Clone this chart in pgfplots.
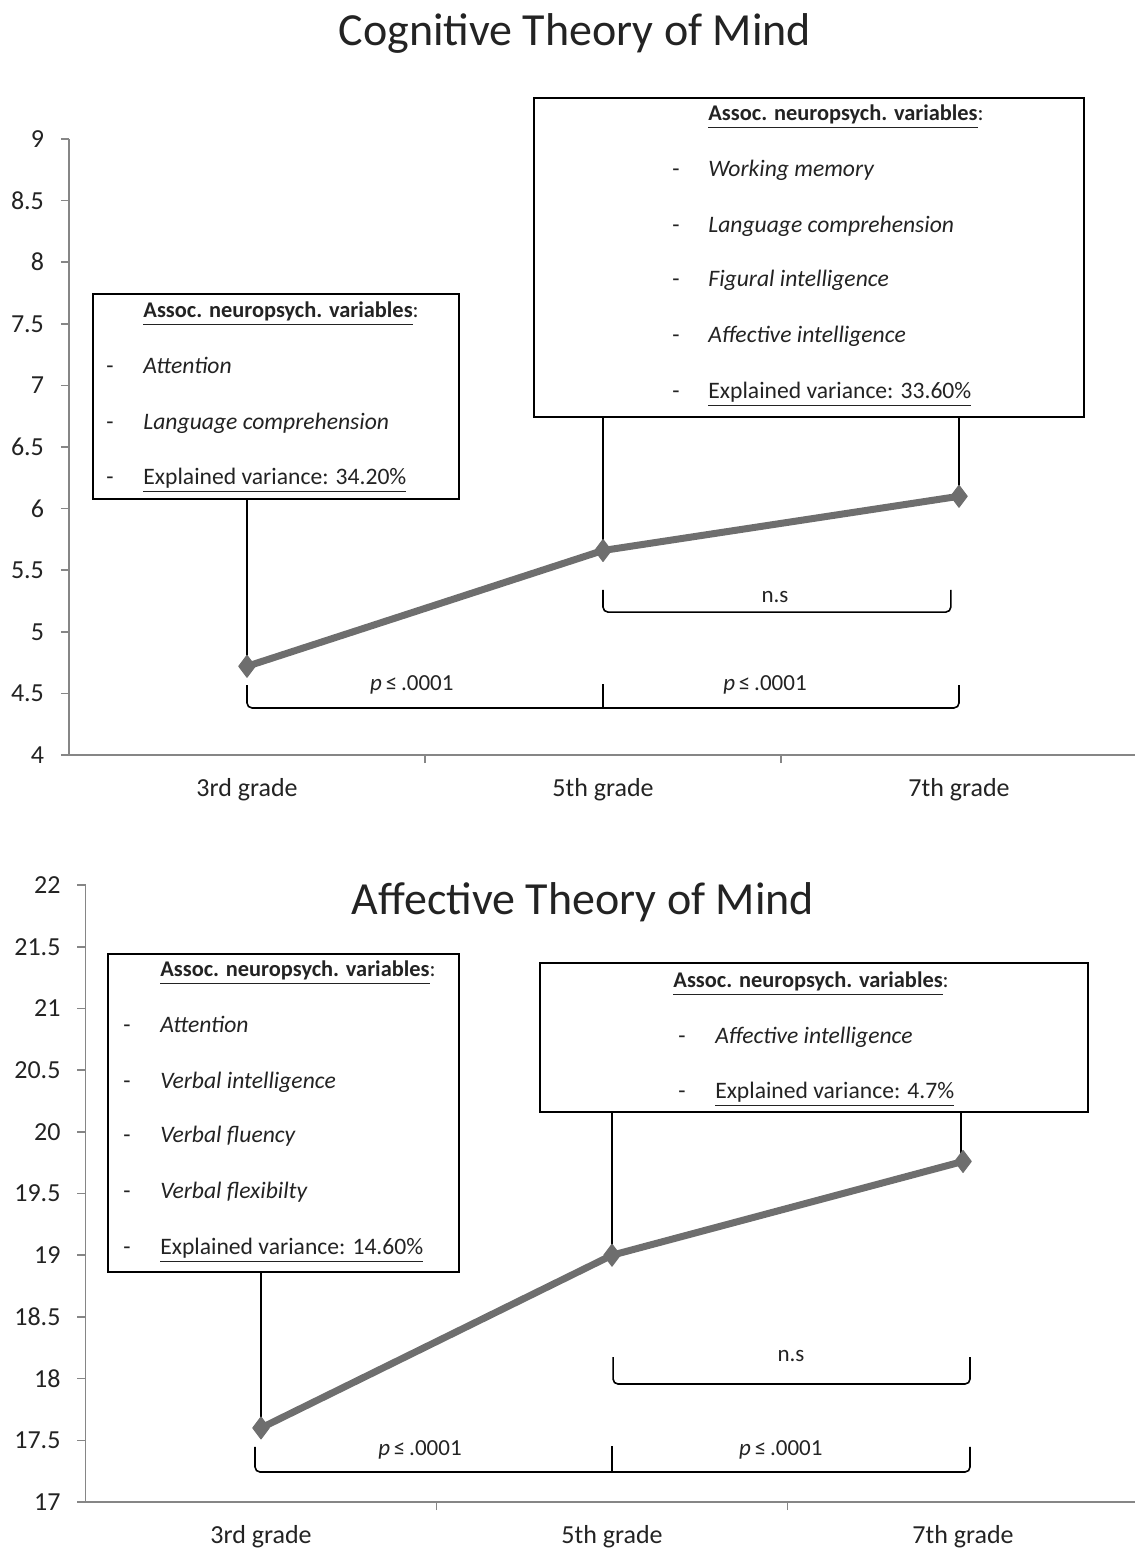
\documentclass[border=0pt]{standalone}
\usepackage{fontspec}
\setmainfont{Carlito}
\usepackage{pgfplots}
\pgfplotsset{compat=1.18}

\definecolor{axisgray}{RGB}{134,134,134}
\definecolor{linegray}{RGB}{110,110,110}
\definecolor{txt}{RGB}{35,35,35}

\tikzset{
  boxtxt/.style={anchor=mid west, font=\fontsize{11.8}{13}\selectfont, text=txt, inner sep=0pt},
  hdtxt/.style={anchor=mid west, font=\fontsize{11.2}{13}\selectfont\bfseries, text=txt, inner sep=0pt},
  ptxt/.style={anchor=mid, font=\fontsize{11.5}{13}\selectfont, text=txt, inner sep=0pt},
  annot/.style={draw=black, line width=0.8pt},
  brack/.style={draw=black, line width=0.8pt, rounded corners=2.5pt},
}

\pgfplotsset{
  tomstyle/.style={
    axis x line*=bottom, axis y line*=left,
    axis line style={draw=axisgray, line width=0.8pt},
    xmin=-0.5, xmax=2.5,
    xtick={0,1,2}, xticklabels={3rd grade,5th grade,7th grade},
    major x tick style={draw=none},
    minor xtick={0.5,1.5},
    tick align=outside,
    major tick length=4pt, minor tick length=4pt,
    tick style={draw=axisgray, line width=0.8pt},
    ytick distance=0.5,
    /pgf/number format/assume math mode=true,
    /pgf/number format/fixed,
    tick label style={font=\fontsize{13}{15}\selectfont, text=txt},
    xticklabel style={yshift=-4pt},
    yticklabel style={xshift=-5pt},
    clip=false,
  },
  tomline/.style={linegray, line width=3.5pt, line join=round, mark=diamond*, mark size=5.5pt,
    mark options={fill=linegray, draw=linegray, line width=0.5pt}},
}

\begin{document}
\begin{tikzpicture}
\useasboundingbox (0,0) rectangle (567.5pt,-774pt);

% ---------------- Top panel ----------------
\begin{axis}[tomstyle,
  at={(34.5pt,-377.5pt)}, anchor=south west,
  x=178pt, y=61.6pt,
  ymin=4, ymax=9]
  % callout boxes
  \draw[annot] (axis cs:0,6.078) -- (axis cs:0,4.72);
  \draw[annot] (axis cs:1,6.744) -- (axis cs:1,5.66);
  \draw[annot] (axis cs:2,6.744) -- (axis cs:2,6.10);
  \draw[annot, fill=white] (axis cs:-0.433,6.078) rectangle (axis cs:0.596,7.742);
  \draw[annot, fill=white] (axis cs:0.806,6.744) rectangle (axis cs:2.351,9.333);
  % left box text
  \node[hdtxt] at (axis cs:-0.292,7.588) {\underline{Assoc. neuropsych. variables}\mdseries:};
  \node[boxtxt] at (axis cs:-0.396,7.133) {-};
  \node[boxtxt] at (axis cs:-0.292,7.133) {\textit{Attention}};
  \node[boxtxt] at (axis cs:-0.396,6.679) {-};
  \node[boxtxt] at (axis cs:-0.292,6.679) {\textit{Language comprehension}};
  \node[boxtxt] at (axis cs:-0.396,6.232) {-};
  \node[boxtxt] at (axis cs:-0.292,6.232) {\underline{Explained variance: 34.20\%}};
  % right box text
  \node[hdtxt] at (axis cs:1.295,9.187) {\underline{Assoc. neuropsych. variables}\mdseries:};
  \node[boxtxt] at (axis cs:1.194,8.732) {-};
  \node[boxtxt] at (axis cs:1.295,8.732) {\textit{Working memory}};
  \node[boxtxt] at (axis cs:1.194,8.278) {-};
  \node[boxtxt] at (axis cs:1.295,8.278) {\textit{Language comprehension}};
  \node[boxtxt] at (axis cs:1.194,7.839) {-};
  \node[boxtxt] at (axis cs:1.295,7.839) {\textit{Figural intelligence}};
  \node[boxtxt] at (axis cs:1.194,7.385) {-};
  \node[boxtxt] at (axis cs:1.295,7.385) {\textit{Affective intelligence}};
  \node[boxtxt] at (axis cs:1.194,6.930) {-};
  \node[boxtxt] at (axis cs:1.295,6.930) {\underline{Explained variance: 33.60\%}};
  % brackets
  \draw[brack] (axis cs:0,4.568) -- (axis cs:0,4.382) -- (axis cs:2,4.382) -- (axis cs:2,4.568);
  \draw[annot, line width=1pt] (axis cs:1,4.382) -- (axis cs:1,4.575);
  \draw[brack] (axis cs:1,5.34) -- (axis cs:1,5.16) -- (axis cs:1.977,5.16) -- (axis cs:1.977,5.34);
  \node[ptxt] at (axis cs:0.463,4.56) {\textit{p}\,≤\,.0001};
  \node[ptxt] at (axis cs:1.455,4.56) {\textit{p}\,≤\,.0001};
  \node[ptxt] at (axis cs:1.483,5.274) {n.s};
  % title
  \node[anchor=mid, font=\fontsize{23}{27}\selectfont, text=txt] at (axis cs:0.921,9.80) {Cognitive Theory of Mind};
  \addplot[tomline] coordinates {(0,4.72) (1,5.66) (2,6.10)};
\end{axis}

% ---------------- Bottom panel ----------------
\begin{axis}[tomstyle,
  at={(42.75pt,-751pt)}, anchor=south west,
  x=175.5pt, y=61.7pt,
  ymin=17, ymax=22]
  \draw[annot] (axis cs:0,18.864) -- (axis cs:0,17.6);
  \draw[annot] (axis cs:1,20.16) -- (axis cs:1,19.0);
  \draw[annot] (axis cs:1.994,20.16) -- (axis cs:1.994,19.76);
  \draw[annot, fill=white] (axis cs:-0.436,18.864) rectangle (axis cs:0.564,21.44);
  \draw[annot, fill=white] (axis cs:0.795,20.16) rectangle (axis cs:2.356,21.368);
  % left box text
  \node[hdtxt] at (axis cs:-0.288,21.295) {\underline{Assoc. neuropsych. variables}\mdseries:};
  \node[boxtxt] at (axis cs:-0.393,20.841) {-};
  \node[boxtxt] at (axis cs:-0.288,20.841) {\textit{Attention}};
  \node[boxtxt] at (axis cs:-0.393,20.387) {-};
  \node[boxtxt] at (axis cs:-0.288,20.387) {\textit{Verbal intelligence}};
  \node[boxtxt] at (axis cs:-0.393,19.950) {-};
  \node[boxtxt] at (axis cs:-0.288,19.950) {\textit{Verbal fluency}};
  \node[boxtxt] at (axis cs:-0.393,19.496) {-};
  \node[boxtxt] at (axis cs:-0.288,19.496) {\textit{Verbal flexibilty}};
  \node[boxtxt] at (axis cs:-0.393,19.042) {-};
  \node[boxtxt] at (axis cs:-0.288,19.042) {\underline{Explained variance: 14.60\%}};
  % right box text
  \node[hdtxt] at (axis cs:1.174,21.206) {\underline{Assoc. neuropsych. variables}\mdseries:};
  \node[boxtxt] at (axis cs:1.188,20.752) {-};
  \node[boxtxt] at (axis cs:1.293,20.752) {\textit{Affective intelligence}};
  \node[boxtxt] at (axis cs:1.188,20.306) {-};
  \node[boxtxt] at (axis cs:1.293,20.306) {\underline{Explained variance: 4.7\%}};
  % brackets
  \draw[brack] (axis cs:-0.017,17.446) -- (axis cs:-0.017,17.243) -- (axis cs:2.02,17.243) -- (axis cs:2.02,17.446);
  \draw[annot, line width=1pt] (axis cs:1,17.243) -- (axis cs:1,17.45);
  \draw[brack] (axis cs:1.003,18.175) -- (axis cs:1.003,17.956) -- (axis cs:2.02,17.956) -- (axis cs:2.02,18.175);
  \node[ptxt] at (axis cs:0.453,17.413) {\textit{p}\,≤\,.0001};
  \node[ptxt] at (axis cs:1.481,17.413) {\textit{p}\,≤\,.0001};
  \node[ptxt] at (axis cs:1.51,18.175) {n.s};
  % title
  \node[anchor=mid, font=\fontsize{23}{27}\selectfont, text=txt] at (axis cs:0.917,21.80) {Affective Theory of Mind};
  \addplot[tomline] coordinates {(0,17.6) (1,19.0) (2,19.76)};
\end{axis}
\end{tikzpicture}
\end{document}
